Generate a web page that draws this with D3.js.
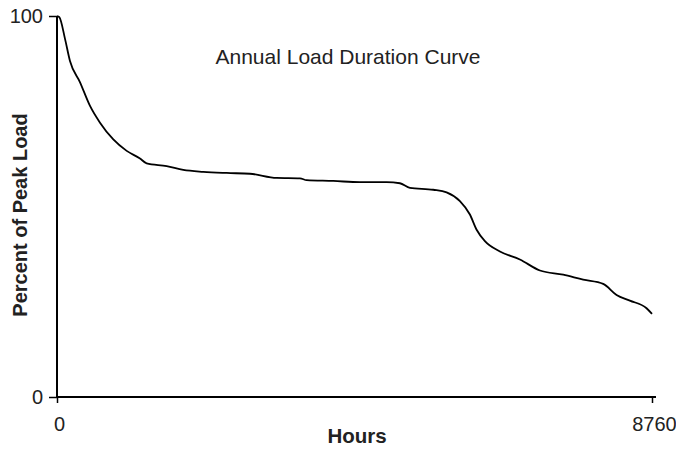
<!DOCTYPE html>
<html>
<head>
<meta charset="utf-8">
<script src="https://cdn.jsdelivr.net/npm/d3@7"></script>
<style>
  body { margin: 0; background: #fff; }
  svg { display: block; font-family: "Liberation Sans", Arial, sans-serif; }
</style>
</head>
<body>
<svg id="chart" width="676" height="449"></svg>
<script>
// Sorted hourly load, hours of the year vs. percent of peak
const hours = [0, 34, 118, 191, 339, 486, 633, 829, 1026, 1222, 1320, 1615, 1859, 2154, 2498, 2841,
  3234, 3577, 3676, 4067, 4460, 4853, 5049, 5196, 5539, 5736, 5932, 6079, 6178, 6300, 6521,
  6815, 7110, 7453, 7747, 8041, 8238, 8434, 8680, 8760];
const loadPct = [100, 99.7, 94, 88.2, 82.6, 76.4, 72, 67.6, 64.6, 62.6, 61.3, 60.6, 59.6, 59.1, 58.8, 58.6,
  57.5, 57.4, 56.9, 56.7, 56.4, 56.4, 56.1, 54.9, 54.4, 53.7, 51.4, 47.9, 43.9, 40.9, 38.2,
  36.1, 33.2, 32.1, 30.8, 29.7, 26.8, 25.3, 23.3, 21.8];
const xTicks = [0, 8760];
const yTicks = [0, 100];

const svg = d3.select("#chart");
const plotL = 57, plotR = 652, plotT = 16, plotB = 397;

const x = d3.scaleLinear().domain([0, 8760]).range([plotL, plotR]);
const y = d3.scaleLinear().domain([0, 100]).range([plotB, plotT]);

// axes
const yAxis = svg.append("g")
  .attr("transform", `translate(${plotL},0)`)
  .call(d3.axisLeft(y).tickValues(yTicks).tickFormat(d3.format("d"))
    .tickSize(8).tickSizeOuter(0).tickPadding(6));
const xAxis = svg.append("g")
  .attr("transform", `translate(0,${plotB})`)
  .call(d3.axisBottom(x).tickValues(xTicks).tickFormat(d3.format("d"))
    .tickSize(6).tickSizeOuter(0).tickPadding(14));

[yAxis, xAxis].forEach(g => {
  g.selectAll("path.domain").attr("stroke", "#000").attr("stroke-width", 2);
  g.selectAll(".tick line").attr("stroke", "#000").attr("stroke-width", 1.5);
  g.selectAll(".tick text").attr("fill", "#222").style("font-size", "20px")
    .style("font-family", "'Liberation Sans', Arial, sans-serif");
});
xAxis.selectAll(".tick text").attr("dx", 2);
xAxis.select("path.domain").attr("d", `M${plotL},0H${plotR + 4}`);
yAxis.select("path.domain").attr("d", `M0,${plotT}V${plotB}`);

// curve
const line = d3.line()
  .x((d, i) => x(hours[i]))
  .y(d => y(d))
  .curve(d3.curveMonotoneX);

svg.append("path")
  .datum(loadPct)
  .attr("fill", "none")
  .attr("stroke", "#000")
  .attr("stroke-width", 1.8)
  .attr("stroke-linejoin", "round")
  .attr("d", line);

// titles
svg.append("text")
  .attr("x", 348).attr("y", 64)
  .attr("text-anchor", "middle")
  .style("font-size", "21px")
  .attr("fill", "#222")
  .text("Annual Load Duration Curve");

svg.append("text")
  .attr("x", 357).attr("y", 443)
  .attr("text-anchor", "middle")
  .style("font-size", "20.5px").style("font-weight", "bold")
  .attr("fill", "#222")
  .text("Hours");

svg.append("text")
  .attr("transform", "translate(27,215) rotate(-90)")
  .attr("text-anchor", "middle")
  .style("font-size", "20px").style("font-weight", "bold")
  .attr("fill", "#222")
  .text("Percent of Peak Load");
</script>
</body>
</html>
